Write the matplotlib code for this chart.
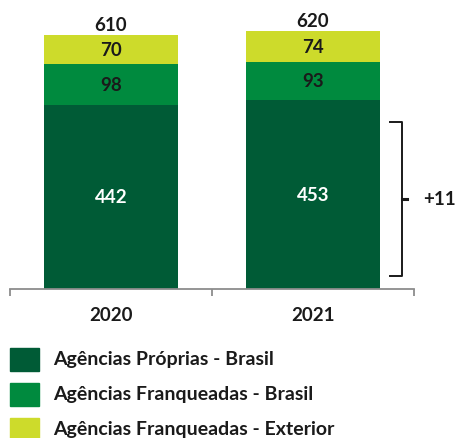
import matplotlib.pyplot as plt
from matplotlib.patches import Rectangle

years = ["2020", "2021"]
proprias_brasil = [442, 453]
franq_brasil = [98, 93]
franq_exterior = [70, 74]
totals = [610, 620]

series_names = ["Agências Próprias - Brasil",
                "Agências Franqueadas - Brasil",
                "Agências Franqueadas - Exterior"]
colors = ["#005B36", "#008A3E", "#CDDB2B"]
label_colors = ["white", "#1a1a1a", "#1a1a1a"]

plt.rcParams["font.family"] = ["Lato", "DejaVu Sans"]
plt.rcParams["font.weight"] = "bold"

fig = plt.figure(figsize=(4.59, 4.39), dpi=100)
ax = fig.add_axes([10 / 459, (439 - 290) / 439, 404 / 459, 290 / 439])

x = list(range(len(years)))
width = 0.66
bottom = [0, 0]
for vals, col, lc in zip([proprias_brasil, franq_brasil, franq_exterior], colors, label_colors):
    ax.bar(x, vals, width, bottom=bottom, color=col, edgecolor="none")
    for xi, v, b in zip(x, vals, bottom):
        ax.text(xi, b + v / 2, str(v), ha="center", va="center",
                color=lc, fontsize=13.5, fontweight="bold")
    bottom = [b + v for b, v in zip(bottom, vals)]

for xi, t in zip(x, totals):
    ax.annotate(str(t), (xi, t), xytext=(0, 1), textcoords="offset points",
                ha="center", va="bottom", fontsize=13.5, fontweight="bold",
                color="#1a1a1a")

ax.set_xlim(-0.5, 1.5)
ax.set_ylim(0, 696)
for s in ["top", "left", "right"]:
    ax.spines[s].set_visible(False)
ax.spines["bottom"].set_color("#8c8c8c")
ax.spines["bottom"].set_linewidth(1.3)
ax.set_yticks([])
ax.set_xticks([-0.5, 0.5, 1.5])
ax.set_xticklabels([])
ax.tick_params(axis="x", which="major", direction="out", length=5,
               width=1.3, color="#8c8c8c")
ax.set_xticks(x, years, minor=True)
ax.tick_params(axis="x", which="minor", length=0, pad=12, labelsize=13.5,
               labelcolor="#1a1a1a")

# bracket for change in own branches
diff = proprias_brasil[1] - proprias_brasil[0]
y_lo, y_hi = 31, 401
xb0, xb1 = 1.38, 1.44
ax.plot([xb0, xb1, xb1, xb0], [y_hi, y_hi, y_lo, y_lo], color="#1a1a1a",
        lw=1.4, clip_on=False)
ax.plot([xb1, xb1 + 0.025], [(y_lo + y_hi) / 2] * 2, color="#1a1a1a",
        lw=2.2, clip_on=False)
ax.text(1.545, (y_lo + y_hi) / 2, f"+{diff}", ha="left", va="center",
        fontsize=13.5, fontweight="bold", color="#1a1a1a", clip_on=False)

# legend
leg_y = [360, 395, 430]
for yc, name, col in zip(leg_y, series_names, colors):
    fig.add_artist(Rectangle((10 / 459, (439 - yc - 11.5) / 439), 29 / 459, 23 / 439,
                             transform=fig.transFigure, color=col))
    fig.text(53 / 459, (439 - yc) / 439, name, ha="left", va="center",
             fontsize=14, fontweight="bold", color="#1a1a1a")

fig.savefig("out.png", dpi=100)
